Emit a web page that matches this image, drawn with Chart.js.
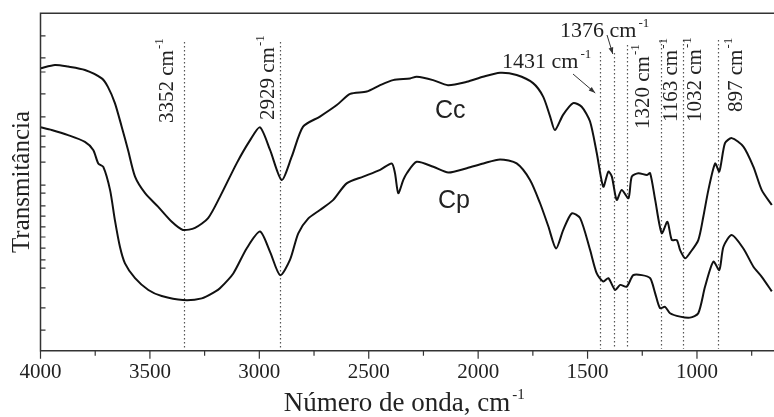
<!DOCTYPE html>
<html>
<head>
<meta charset="utf-8">
<script src="https://cdn.jsdelivr.net/npm/chart.js@4.4.0/dist/chart.umd.min.js"></script>
<style>
  body { margin: 0; background: #fff; }
  canvas { display: block; }
</style>
</head>
<body>
<canvas id="ftir" width="774" height="417"></canvas>
<script>
// wavenumbers (cm-1) and transmittance (arbitrary units)
var ccWave = [4000, 3934, 3874, 3797, 3720, 3692, 3660, 3629, 3600, 3568, 3522, 3463, 3400, 3349, 3294, 3234, 3180,
  3103, 3042, 2997, 2951, 2898, 2852, 2800, 2723, 2646, 2585, 2509, 2448, 2389, 2311, 2281, 2206, 2138, 2052,
  1978, 1900, 1824, 1749, 1703, 1671, 1649, 1612, 1566, 1527, 1489, 1458, 1428, 1405, 1389, 1367, 1344, 1313,
  1298, 1268, 1229, 1214, 1191, 1161, 1135, 1115, 1092, 1077, 1054, 1032, 994, 971, 948, 917, 898, 872, 841,
  788, 742, 704, 658];
var ccT = [83.7, 84.7, 84.2, 83.2, 80.7, 78.2, 73.4, 66.4, 59.5, 51.6, 46.7, 42.7, 38.2, 35.8, 36.4, 39.3, 45.6,
  55.6, 62.4, 66.2, 59.5, 50.6, 57.5, 66.4, 69.4, 72.8, 76.1, 76.8, 78.7, 80.2, 80.7, 81.2, 80.2, 78.7, 79.7,
  81.2, 82.4, 81.7, 79.3, 75.3, 69.4, 65.4, 69.9, 73.4, 72.3, 68.0, 58.6, 48.6, 53.1, 51.6, 44.7, 47.6, 45.2,
  51.6, 52.6, 52.1, 52.6, 44.7, 34.8, 38.2, 32.8, 32.8, 29.8, 27.4, 29.0, 32.8, 39.7, 47.6, 55.5, 53.1, 61.5, 63.0,
  60.5, 54.5, 47.6, 43.2];

var cpWave = [4000, 3949, 3874, 3797, 3759, 3736, 3713, 3682, 3660, 3637, 3614, 3568, 3507, 3446, 3349, 3263, 3202,
  3180, 3119, 3058, 2997, 2951, 2905, 2860, 2822, 2776, 2723, 2662, 2601, 2525, 2448, 2395, 2380, 2365, 2342,
  2326, 2281, 2205, 2136, 2052, 1976, 1900, 1824, 1763, 1717, 1679, 1644, 1611, 1572, 1534, 1489, 1458, 1428,
  1405, 1374, 1351, 1321, 1291, 1252, 1214, 1191, 1169, 1146, 1123, 1077, 1032, 994, 963, 925, 898, 879, 841,
  788, 742, 704, 658];
var cpT = [66.2, 65.4, 63.9, 61.9, 59.5, 55.5, 54.5, 47.6, 38.7, 30.8, 25.9, 21.5, 18.0, 16.2, 15.0, 15.5, 17.5,
  18.5, 22.9, 30.3, 35.3, 29.3, 22.4, 26.9, 34.8, 39.2, 41.7, 44.7, 49.6, 51.6, 53.6, 55.5, 52.6, 46.7, 50.6,
  52.6, 56.0, 54.5, 52.8, 54.1, 55.5, 56.7, 55.5, 50.6, 43.7, 36.8, 30.3, 35.8, 40.7, 39.3, 30.0, 22.9, 20.5,
  21.5, 18.0, 19.5, 19.0, 22.4, 22.4, 21.5, 17.0, 12.6, 13.0, 11.1, 10.1, 9.8, 11.1, 19.0, 26.4, 23.9, 30.8, 34.3,
  30.3, 24.9, 21.9, 17.6];

// marked bands: where the dotted line sits, its label and how high it reaches
var peakPos = [3345, 2907, 1442, 1380, 1319, 1164, 1062, 902];
var peakLabels = ['3352', '2929', '1431', '1376', '1320', '1163', '1032', '897'];
var peakTop = [91.5, 91.5, 88.5, 88.2, 90.6, 92.1, 92.1, 92.1];

var xTicks = [4000, 3500, 3000, 2500, 2000, 1500, 1000];
var xMinor = [3750, 3250, 2750, 2250, 1750, 1250, 750];
var yTicks = [93.3, 86.8, 82.6, 76.1, 69.3, 63.6, 60.4, 55.9, 49.1, 46.7, 42.9, 39.9, 36.7, 33.7, 30.4, 26.9,
  24.5, 18.6, 12.7, 6.1];

var serif = "'Liberation Serif', 'Times New Roman', serif";
var sans = "'Liberation Sans', Arial, sans-serif";

function toPoints(xs, ys) {
  return xs.map(function (v, i) { return { x: v, y: ys[i] }; });
}

var decor = {
  id: 'decor',
  beforeDatasetsDraw: function (chart) {
    var ctx = chart.ctx, a = chart.chartArea, x = chart.scales.x, y = chart.scales.y;
    ctx.save();
    ctx.strokeStyle = '#555';
    ctx.lineWidth = 1.2;
    ctx.setLineDash([1.5, 2.5]);
    peakPos.forEach(function (p, i) {
      var px = Math.round(x.getPixelForValue(p)) + 0.5;
      ctx.beginPath();
      ctx.moveTo(px, y.getPixelForValue(peakTop[i]));
      ctx.lineTo(px, a.bottom - 2);
      ctx.stroke();
    });
    ctx.restore();
  },
  afterDatasetsDraw: function (chart) {
    var ctx = chart.ctx, a = chart.chartArea, x = chart.scales.x, y = chart.scales.y;
    ctx.save();

    // frame
    ctx.strokeStyle = '#333';
    ctx.lineWidth = 1.5;
    ctx.beginPath();
    ctx.moveTo(a.right, a.top);
    ctx.lineTo(a.left, a.top);
    ctx.lineTo(a.left, a.bottom);
    ctx.lineTo(a.right, a.bottom);
    ctx.stroke();

    ctx.lineWidth = 1.2;
    ctx.beginPath();
    xTicks.forEach(function (v) {
      var px = x.getPixelForValue(v);
      ctx.moveTo(px, a.bottom);
      ctx.lineTo(px, a.bottom + 8);
    });
    xMinor.forEach(function (v) {
      var px = x.getPixelForValue(v);
      ctx.moveTo(px, a.bottom);
      ctx.lineTo(px, a.bottom + 5);
    });
    yTicks.forEach(function (v) {
      var py = y.getPixelForValue(v);
      ctx.moveTo(a.left, py);
      ctx.lineTo(a.left + 5, py);
    });
    ctx.stroke();

    ctx.fillStyle = '#222';
    ctx.textBaseline = 'alphabetic';
    ctx.textAlign = 'left';

    // vertical band labels (offset from their dotted line)
    var rot = { 0: [-11, 123], 1: [-6, 120], 4: [22, 129], 5: [16, 122], 6: [18, 122], 7: [24, 112] };
    Object.keys(rot).forEach(function (k) {
      var i = +k;
      var bx = x.getPixelForValue(peakPos[i]) + rot[k][0];
      ctx.save();
      ctx.translate(bx, rot[k][1]);
      ctx.rotate(-Math.PI / 2);
      ctx.font = '21px ' + serif;
      var t = peakLabels[i] + ' cm';
      ctx.fillText(t, 0, 0);
      var w = ctx.measureText(t).width;
      ctx.font = '13px ' + serif;
      ctx.fillText('-1', w + 1, -10);
      ctx.restore();
    });

    // horizontal labels with arrows
    function flatLabel(txt, lx, ly) {
      ctx.font = '22px ' + serif;
      ctx.fillText(txt, lx, ly);
      var w = ctx.measureText(txt).width;
      ctx.font = '13px ' + serif;
      ctx.fillText('-1', lx + w + 2, ly - 10);
    }
    function arrow(x1, y1, x2, y2) {
      ctx.strokeStyle = '#333';
      ctx.lineWidth = 1;
      ctx.beginPath();
      ctx.moveTo(x1, y1);
      ctx.lineTo(x2, y2);
      ctx.stroke();
      var ang = Math.atan2(y2 - y1, x2 - x1);
      ctx.beginPath();
      ctx.moveTo(x2, y2);
      ctx.lineTo(x2 - 7 * Math.cos(ang - 0.35), y2 - 7 * Math.sin(ang - 0.35));
      ctx.lineTo(x2 - 7 * Math.cos(ang + 0.35), y2 - 7 * Math.sin(ang + 0.35));
      ctx.closePath();
      ctx.fillStyle = '#333';
      ctx.fill();
      ctx.fillStyle = '#222';
    }
    flatLabel(peakLabels[2] + ' cm', 502, 68);
    arrow(573, 74, x.getPixelForValue(peakPos[2]) - 5, 93);
    flatLabel(peakLabels[3] + ' cm', 560, 37);
    arrow(607, 35, x.getPixelForValue(peakPos[3]) - 1, 54);

    // curve names
    ctx.font = '25px ' + sans;
    ctx.fillText('Cc', 435, 118);
    ctx.fillText('Cp', 438, 208);

    // x axis title with superscript
    ctx.font = '27px ' + serif;
    var title = 'Número de onda, cm';
    var tw = ctx.measureText(title).width;
    var tx = 397 - tw / 2;
    ctx.fillText(title, tx, 411);
    ctx.font = '15px ' + serif;
    ctx.fillText('-1', tx + tw + 2, 399);

    ctx.restore();
  }
};

var ctx = document.getElementById('ftir').getContext('2d');
window.chart = new Chart(ctx, {
  type: 'line',
  data: {
    datasets: [{
      label: 'Cc',
      data: toPoints(ccWave, ccT),
      borderColor: '#111',
      borderWidth: 2,
      pointRadius: 0,
      tension: 0.25,
      fill: false
    }, {
      label: 'Cp',
      data: toPoints(cpWave, cpT),
      borderColor: '#111',
      borderWidth: 2,
      pointRadius: 0,
      tension: 0.25,
      fill: false
    }]
  },
  options: {
    responsive: false,
    animation: false,
    devicePixelRatio: 1,
    layout: { padding: { top: 13.3, right: 0, left: 0, bottom: 0 } },
    plugins: {
      legend: { display: false },
      tooltip: { enabled: false }
    },
    scales: {
      x: {
        type: 'linear',
        reverse: true,
        min: 648,
        max: 4000,
        afterBuildTicks: function (s) {
          s.ticks = xTicks.map(function (v) { return { value: v }; });
        },
        afterFit: function (s) { s.height = 66.3; },
        grid: { display: false, drawTicks: false },
        border: { display: false },
        ticks: {
          font: { family: serif, size: 21 },
          color: '#222',
          padding: 9,
          maxRotation: 0,
          autoSkip: false,
          callback: function (v) { return String(v); }
        }
      },
      y: {
        min: 0,
        max: 100,
        afterFit: function (s) { s.width = 40.5; },
        grid: { display: false, drawTicks: false },
        border: { display: false },
        ticks: { display: false },
        title: {
          display: true,
          text: 'Transmitância',
          font: { family: serif, size: 25 },
          color: '#222',
          padding: { top: 7, bottom: 0 }
        }
      }
    }
  },
  plugins: [decor]
});
</script>
</body>
</html>
